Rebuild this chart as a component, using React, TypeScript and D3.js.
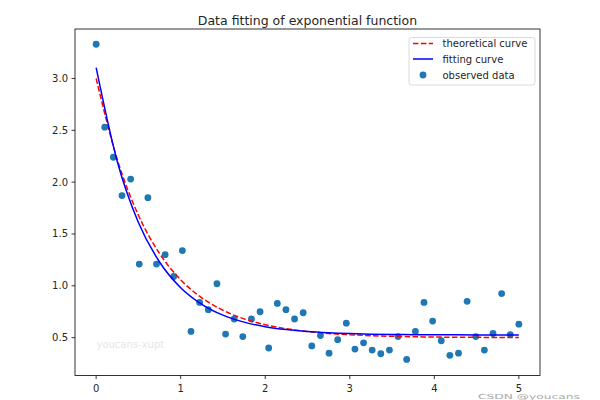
import React from "react";
import * as d3 from "d3";

const xObserved = [
  0, 0.102, 0.204, 0.306, 0.408, 0.51, 0.612, 0.714, 0.816, 0.918,
  1.02, 1.122, 1.224, 1.327, 1.429, 1.531, 1.633, 1.735, 1.837, 1.939,
  2.041, 2.143, 2.245, 2.347, 2.449, 2.551, 2.653, 2.755, 2.857, 2.959,
  3.061, 3.163, 3.265, 3.367, 3.469, 3.571, 3.673, 3.776, 3.878, 3.98,
  4.082, 4.184, 4.286, 4.388, 4.49, 4.592, 4.694, 4.796, 4.898, 5.0,
];
const yObserved = [
  3.33, 2.53, 2.24, 1.87, 2.03, 1.21, 1.85, 1.21, 1.3, 1.09,
  1.34, 0.56, 0.84, 0.77, 1.02, 0.535, 0.68, 0.51, 0.68, 0.75,
  0.4, 0.83, 0.77, 0.68, 0.74, 0.42, 0.52, 0.35, 0.48, 0.64,
  0.39, 0.45, 0.38, 0.345, 0.38, 0.51, 0.29, 0.56, 0.84, 0.66,
  0.47, 0.33, 0.35, 0.85, 0.51, 0.38, 0.54, 0.925, 0.53, 0.63,
];
const xCurve = [
  0, 0.25, 0.5, 0.75, 1, 1.25, 1.5, 1.75, 2, 2.25, 2.5,
  2.75, 3, 3.25, 3.5, 3.75, 4, 4.25, 4.5, 4.75, 5,
];
const yTheoretical = [
  3.0, 2.218, 1.681, 1.312, 1.058, 0.884, 0.764, 0.681, 0.625, 0.586, 0.559,
  0.54, 0.528, 0.519, 0.513, 0.509, 0.506, 0.504, 0.503, 0.502, 0.501,
];
const yFitting = [
  3.105, 2.199, 1.611, 1.23, 0.982, 0.822, 0.717, 0.65, 0.606, 0.578, 0.559,
  0.547, 0.539, 0.534, 0.531, 0.529, 0.528, 0.527, 0.526, 0.526, 0.525,
];
const xTicks = [0, 1, 2, 3, 4, 5];
const yTicks = [0.5, 1.0, 1.5, 2.0, 2.5, 3.0];
const legendLabels = ["theoretical curve", "fitting curve", "observed data"];
const title = "Data fitting of exponential function";

const FONT = "DejaVu Sans, sans-serif";

export default function App() {
  const left = 75, right = 540, top = 29, bottom = 375.5;
  const x = d3.scaleLinear().domain([-0.25, 5.25]).range([left, right]);
  const y = d3.scaleLinear().domain([0.135, 3.477]).range([bottom, top]);

  const line = d3
    .line<[number, number]>()
    .x((d) => x(d[0]))
    .y((d) => y(d[1]))
    .curve(d3.curveMonotoneX);

  const theo = line(xCurve.map((v, i) => [v, yTheoretical[i]]) as [number, number][]) || "";
  const fit = line(xCurve.map((v, i) => [v, yFitting[i]]) as [number, number][]) || "";

  const textColor = "#262626";
  const legX = 409, legY = 37.5, legW = 126, legH = 47.5;
  const rowY = [43.5, 59, 75];

  return (
    <svg
      width={600}
      height={400}
      style={{ position: "absolute", left: 0, top: 0, background: "#fff" }}
      fontFamily={FONT}
    >
      <rect x={0} y={0} width={600} height={400} fill="#fff" />
      <text x={(left + right) / 2} y={25} textAnchor="middle" fontSize={12.5} fill={textColor}>
        {title}
      </text>

      {/* watermarks */}
      <text x={96.5} y={348} fontSize={10} fill="#e6e6e6">youcans-xupt</text>
      <text x={478} y={398.5} fontSize={7} fill="#a8a8a8" textLength={108} lengthAdjust="spacingAndGlyphs">
        CSDN @youcans_
      </text>

      <g clipPath="url(#plotclip)">
        {xObserved.map((v, i) => (
          <circle key={i} cx={x(v)} cy={y(yObserved[i])} r={3.4} fill="#1f77b4" />
        ))}
        <path d={theo} fill="none" stroke="#ff0000" strokeWidth={1.5} strokeDasharray="5.5,2.4" />
        <path d={fit} fill="none" stroke="#0000ff" strokeWidth={1.5} />
      </g>
      <defs>
        <clipPath id="plotclip">
          <rect x={left} y={top} width={right - left} height={bottom - top} />
        </clipPath>
      </defs>

      {/* spines */}
      <rect x={left} y={top} width={right - left} height={bottom - top} fill="none" stroke="#000" strokeWidth={0.8} />

      {/* x ticks */}
      {xTicks.map((t) => (
        <g key={"x" + t}>
          <line x1={x(t)} x2={x(t)} y1={bottom} y2={bottom + 3.5} stroke="#000" strokeWidth={0.8} />
          <text x={x(t)} y={391.5} textAnchor="middle" fontSize={10} fill={textColor}>
            {String(t)}
          </text>
        </g>
      ))}
      {/* y ticks */}
      {yTicks.map((t) => (
        <g key={"y" + t}>
          <line x1={left - 3.5} x2={left} y1={y(t)} y2={y(t)} stroke="#000" strokeWidth={0.8} />
          <text x={68} y={y(t) + 3.5} textAnchor="end" fontSize={10} fill={textColor}>
            {t.toFixed(1)}
          </text>
        </g>
      ))}

      {/* legend */}
      <rect x={legX} y={legY} width={legW} height={legH} rx={2.5} fill="#fff" fillOpacity={0.8} stroke="#d0d0d0" strokeWidth={0.8} />
      <line x1={413} x2={433} y1={rowY[0]} y2={rowY[0]} stroke="#ff0000" strokeWidth={1.5} strokeDasharray="5.5,2.4" />
      <line x1={413} x2={433} y1={rowY[1]} y2={rowY[1]} stroke="#0000ff" strokeWidth={1.5} />
      <circle cx={423} cy={rowY[2]} r={3.4} fill="#1f77b4" />
      {legendLabels.map((l, i) => (
        <text key={l} x={442.5} y={rowY[i] + 3.6} fontSize={10} fill={textColor}>
          {l}
        </text>
      ))}
    </svg>
  );
}
